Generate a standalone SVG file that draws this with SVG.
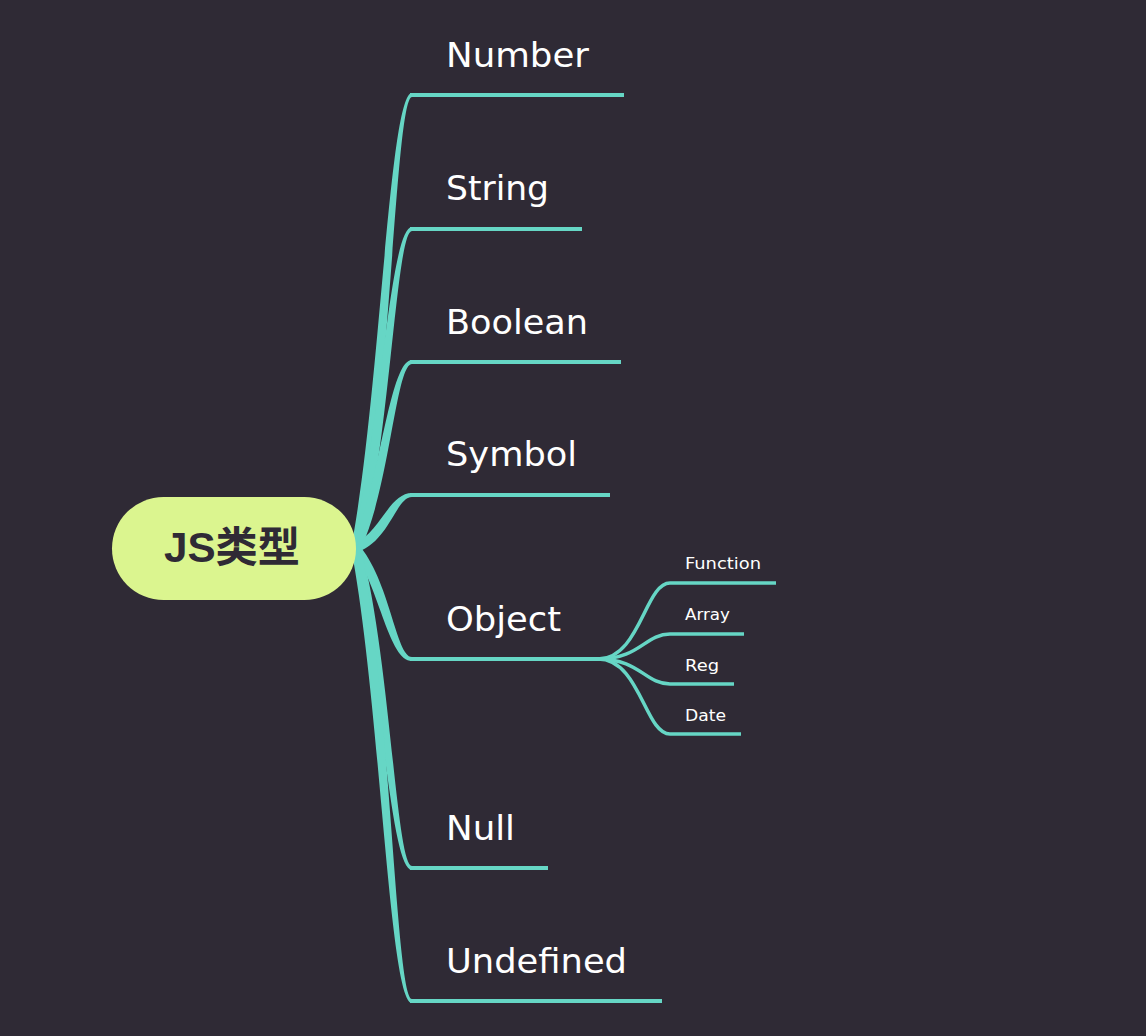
<svg xmlns="http://www.w3.org/2000/svg" width="1146" height="1036" viewBox="0 0 1146 1036">
<style>
.bg{fill:#2f2a35}
.taper{fill:#66d6c5;stroke:none}
.line{fill:none;stroke:#66d6c5;stroke-width:4;stroke-linecap:butt}
.sub{fill:none;stroke:#66d6c5;stroke-width:3.5}
.lbl{font-family:"DejaVu Sans","Liberation Sans",sans-serif;font-size:33px;fill:#ffffff}
.slbl{font-family:"DejaVu Sans","Liberation Sans",sans-serif;font-size:16.5px;fill:#ffffff}
.root{fill:#dbf58f}
.rtxt{font-family:"Liberation Sans","Noto Sans CJK SC",sans-serif;font-size:42px;font-weight:bold;fill:#2f2a35}
</style>
<rect class="bg" x="0" y="0" width="1146" height="1036"/>
<g id="connectors">
  <!-- Number -->
  <path class="taper" d="M351,548 C380,398 389,93 412,93 L412,97 C396,97 390,398 361,548 Z"/>
  <path class="line" d="M410,95 H624"/>
  <!-- String -->
  <path class="taper" d="M351,548 C380,443 389,227 412,227 L412,231 C396,231 390,443 361,548 Z"/>
  <path class="line" d="M410,229 H582"/>
  <!-- Boolean -->
  <path class="taper" d="M351,548 C380,487 389,360 412,360 L412,364 C396,364 390,487 361,548 Z"/>
  <path class="line" d="M410,362 H621"/>
  <!-- Symbol -->
  <path class="taper" d="M354,544 C380,533 389,493 412,493 L412,497 C396,497 390,540 358,552 Z"/>
  <path class="line" d="M410,495 H610"/>
  <!-- Object -->
  <path class="taper" d="M354,552 C380,590 389,661 412,661 L412,657 C396,657 390,580 358,544 Z"/>
  <path class="line" d="M410,659 H600"/>
  <!-- Null -->
  <path class="taper" d="M351,548 C380,654 389,870 412,870 L412,866 C396,866 390,654 361,548 Z"/>
  <path class="line" d="M410,868 H548"/>
  <!-- Undefined -->
  <path class="taper" d="M351,548 C380,697 389,1003 412,1003 L412,999 C396,999 390,697 361,548 Z"/>
  <path class="line" d="M410,1001 H662"/>
  <!-- Object children -->
  <path class="sub" d="M598,659 C640,659 645,583 670,583 H776"/>
  <path class="sub" d="M598,659 C640,659 645,634 670,634 H744"/>
  <path class="sub" d="M598,659 C640,659 645,684 670,684 H734"/>
  <path class="sub" d="M598,659 C640,659 645,734 670,734 H741"/>
</g>
<g id="root">
  <rect class="root" x="112" y="497" width="244" height="103" rx="51.5"/>
  <text class="rtxt" x="164" y="562" textLength="136" lengthAdjust="spacingAndGlyphs">JS类型</text>
</g>
<g id="n-number"><text class="lbl" x="446" y="67" textLength="143" lengthAdjust="spacingAndGlyphs">Number</text></g>
<g id="n-string"><text class="lbl" x="446" y="200" textLength="103" lengthAdjust="spacingAndGlyphs">String</text></g>
<g id="n-boolean"><text class="lbl" x="446" y="334" textLength="142" lengthAdjust="spacingAndGlyphs">Boolean</text></g>
<g id="n-symbol"><text class="lbl" x="446" y="466" textLength="131" lengthAdjust="spacingAndGlyphs">Symbol</text></g>
<g id="n-object"><text class="lbl" x="446" y="631" textLength="115" lengthAdjust="spacingAndGlyphs">Object</text></g>
<g id="n-null"><text class="lbl" x="446" y="840" textLength="69" lengthAdjust="spacingAndGlyphs">Null</text></g>
<g id="n-undefined"><text class="lbl" x="446" y="973" textLength="181" lengthAdjust="spacingAndGlyphs">Undefined</text></g>
<g id="n-function"><text class="slbl" x="685" y="569" textLength="76" lengthAdjust="spacingAndGlyphs">Function</text></g>
<g id="n-array"><text class="slbl" x="685" y="620" textLength="45" lengthAdjust="spacingAndGlyphs">Array</text></g>
<g id="n-reg"><text class="slbl" x="685" y="671" textLength="34" lengthAdjust="spacingAndGlyphs">Reg</text></g>
<g id="n-date"><text class="slbl" x="685" y="721" textLength="41" lengthAdjust="spacingAndGlyphs">Date</text></g>
</svg>
